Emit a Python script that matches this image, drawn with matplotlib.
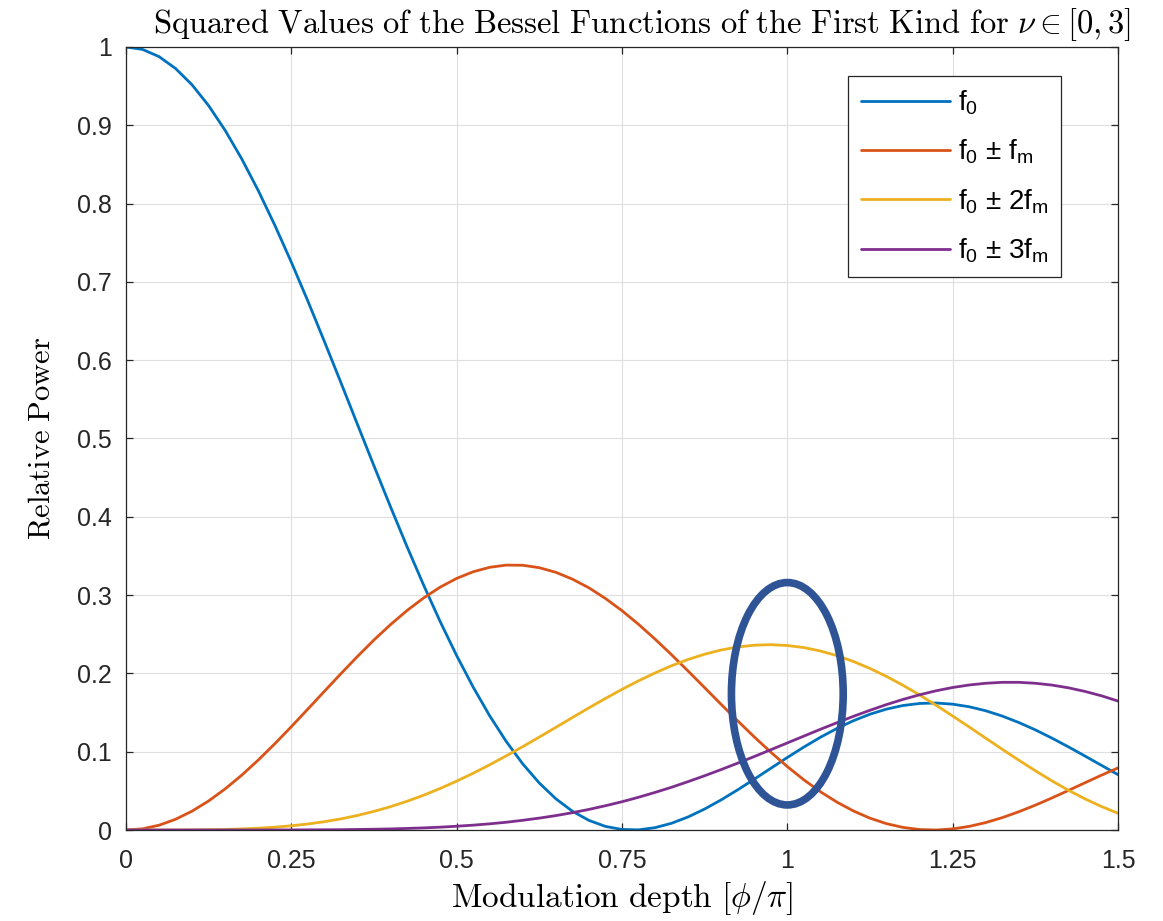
import matplotlib
matplotlib.use('Agg')
import matplotlib.pyplot as plt
from matplotlib.patches import Ellipse

plt.rcParams['font.family'] = ['Liberation Sans', 'DejaVu Sans']
plt.rcParams['mathtext.fontset'] = 'custom'
plt.rcParams['mathtext.rm'] = 'Liberation Sans'
plt.rcParams['mathtext.it'] = 'Liberation Sans'

# modulation depth phi/pi
depth = [0.000, 0.025, 0.050, 0.075, 0.100, 0.125, 0.150, 0.175, 0.200, 0.225,
         0.250, 0.275, 0.300, 0.325, 0.350, 0.375, 0.400, 0.425, 0.450, 0.475,
         0.500, 0.525, 0.550, 0.575, 0.600, 0.625, 0.650, 0.675, 0.700, 0.725,
         0.750, 0.775, 0.800, 0.825, 0.850, 0.875, 0.900, 0.925, 0.950, 0.975,
         1.000, 1.025, 1.050, 1.075, 1.100, 1.125, 1.150, 1.175, 1.200, 1.225,
         1.250, 1.275, 1.300, 1.325, 1.350, 1.375, 1.400, 1.425, 1.450, 1.475,
         1.500]

# relative power
p_carrier = [1.0000, 0.9969, 0.9877, 0.9725, 0.9516, 0.9251, 0.8935, 0.8572, 0.8167, 0.7725,
             0.7253, 0.6756, 0.6240, 0.5714, 0.5181, 0.4651, 0.4128, 0.3619, 0.3129, 0.2664,
             0.2228, 0.1825, 0.1458, 0.1131, 0.0844, 0.0600, 0.0399, 0.0240, 0.0123, 0.0046,
             0.0007, 0.0002, 0.0030, 0.0086, 0.0167, 0.0268, 0.0385, 0.0513, 0.0649, 0.0788,
             0.0926, 0.1059, 0.1184, 0.1297, 0.1396, 0.1479, 0.1544, 0.1590, 0.1616, 0.1622,
             0.1607, 0.1574, 0.1523, 0.1455, 0.1373, 0.1279, 0.1174, 0.1062, 0.0945, 0.0826,
             0.0707]
p_side1 = [0.0000, 0.0015, 0.0061, 0.0137, 0.0241, 0.0371, 0.0525, 0.0700, 0.0893, 0.1101,
           0.1319, 0.1544, 0.1771, 0.1996, 0.2216, 0.2427, 0.2623, 0.2803, 0.2963, 0.3101,
           0.3213, 0.3298, 0.3355, 0.3383, 0.3381, 0.3350, 0.3291, 0.3204, 0.3093, 0.2957,
           0.2801, 0.2627, 0.2438, 0.2238, 0.2030, 0.1818, 0.1604, 0.1394, 0.1189, 0.0994,
           0.0810, 0.0641, 0.0489, 0.0356, 0.0243, 0.0151, 0.0081, 0.0033, 0.0006, 0.0000,
           0.0014, 0.0046, 0.0095, 0.0158, 0.0233, 0.0317, 0.0409, 0.0505, 0.0603, 0.0700,
           0.0793]
p_side2 = [0.0000, 0.0000, 0.0000, 0.0000, 0.0001, 0.0004, 0.0007, 0.0014, 0.0023, 0.0036,
           0.0054, 0.0077, 0.0106, 0.0142, 0.0186, 0.0238, 0.0298, 0.0367, 0.0444, 0.0530,
           0.0624, 0.0725, 0.0833, 0.0947, 0.1065, 0.1187, 0.1311, 0.1436, 0.1560, 0.1680,
           0.1796, 0.1905, 0.2006, 0.2098, 0.2178, 0.2245, 0.2299, 0.2337, 0.2360, 0.2367,
           0.2356, 0.2330, 0.2286, 0.2227, 0.2152, 0.2063, 0.1961, 0.1848, 0.1725, 0.1593,
           0.1456, 0.1316, 0.1173, 0.1031, 0.0892, 0.0757, 0.0628, 0.0508, 0.0398, 0.0300,
           0.0214]
p_side3 = [0.0000, 0.0000, 0.0000, 0.0000, 0.0000, 0.0000, 0.0000, 0.0000, 0.0000, 0.0001,
           0.0001, 0.0002, 0.0003, 0.0004, 0.0007, 0.0010, 0.0014, 0.0020, 0.0027, 0.0036,
           0.0048, 0.0062, 0.0079, 0.0099, 0.0124, 0.0152, 0.0184, 0.0221, 0.0263, 0.0310,
           0.0361, 0.0418, 0.0480, 0.0546, 0.0618, 0.0693, 0.0772, 0.0854, 0.0938, 0.1025,
           0.1112, 0.1199, 0.1286, 0.1370, 0.1452, 0.1529, 0.1602, 0.1668, 0.1727, 0.1778,
           0.1820, 0.1852, 0.1874, 0.1886, 0.1886, 0.1874, 0.1851, 0.1816, 0.1770, 0.1714,
           0.1647]

labels = [r'f$_0$', r'f$_0$ $\pm$ f$_\mathrm{m}$', r'f$_0$ $\pm$ 2f$_\mathrm{m}$', r'f$_0$ $\pm$ 3f$_\mathrm{m}$']
colors = ['#0072BD', '#D95319', '#EDB120', '#7E2F8E']

xticks = [0, 0.25, 0.5, 0.75, 1, 1.25, 1.5]
xticklabels = ['0', '0.25', '0.5', '0.75', '1', '1.25', '1.5']
yticks = [0, 0.1, 0.2, 0.3, 0.4, 0.5, 0.6, 0.7, 0.8, 0.9, 1]
yticklabels = ['0', '0.1', '0.2', '0.3', '0.4', '0.5', '0.6', '0.7', '0.8', '0.9', '1']

fig = plt.figure(figsize=(11.63, 9.21), dpi=100)
ax = fig.add_axes([0.1083, 0.0988, 0.8530, 0.8502])

for series, c, lab in zip([p_carrier, p_side1, p_side2, p_side3], colors, labels):
    ax.plot(depth, series, color=c, lw=2.0, label=lab, solid_capstyle='round')

ax.set_xlim(0, 1.5)
ax.set_ylim(0, 1)
ax.set_xticks(xticks)
ax.set_xticklabels(xticklabels)
ax.set_yticks(yticks)
ax.set_yticklabels(yticklabels)
ax.grid(True, color='#DFDFDF', lw=0.8)
ax.set_axisbelow(True)
for s in ax.spines.values():
    s.set_color('#262626')
    s.set_linewidth(0.9)
ax.tick_params(direction='in', length=5, width=0.9, color='#262626',
               top=True, right=True, labelsize=18, labelcolor='#262626')
ax.tick_params(axis='x', pad=14)
ax.tick_params(axis='y', pad=10)

ax.set_title(r'$\mathrm{Squared\ Values\ of\ the\ Bessel\ Functions\ of\ the\ First\ Kind\ for\ }\nu \in [0, 3]$',
             fontsize=23.5, math_fontfamily='cm', pad=10, x=0.52)
ax.set_xlabel(r'$\mathrm{Modulation\ depth\ }[\phi/\pi]$', fontsize=24, math_fontfamily='cm', labelpad=4)
ax.set_ylabel(r'$\mathrm{Relative\ Power}$', fontsize=22, math_fontfamily='cm', labelpad=15)

leg = ax.legend(loc='upper right', bbox_to_anchor=(0.9425, 0.963), borderaxespad=0,
                fancybox=False, fontsize=20, handlelength=3.2, handletextpad=0.3,
                labelspacing=0.75, borderpad=0.45, edgecolor='#262626', framealpha=1)
leg.get_frame().set_linewidth(0.9)

# highlight around phi = pi
ax.add_patch(Ellipse((1.0, 0.174), width=0.169, height=0.284, fill=False,
                     edgecolor='#2F5496', lw=5.5, zorder=5))

fig.savefig('out.png', dpi=100)
